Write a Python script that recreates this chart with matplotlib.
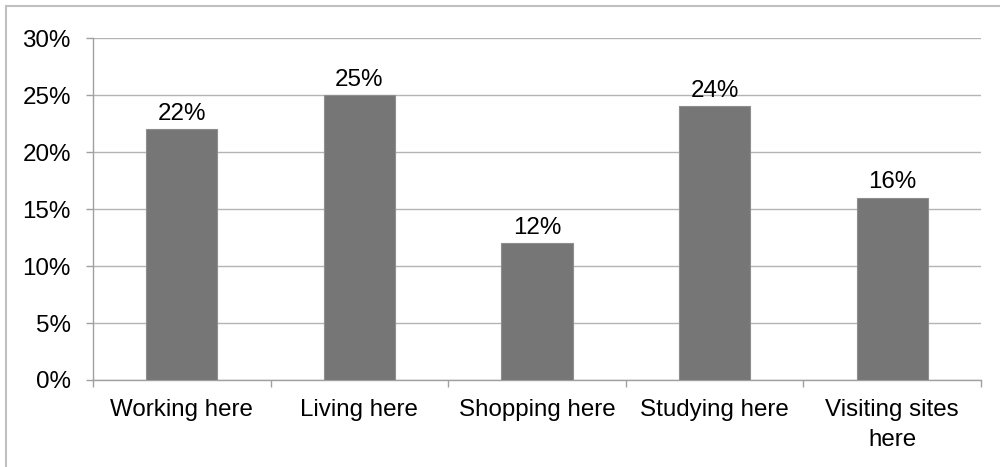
import numpy as np
import matplotlib.pyplot as plt
from matplotlib.ticker import FixedLocator, PercentFormatter

categories = ["Working here", "Living here", "Shopping here", "Studying here", "Visiting sites\nhere"]
shares = [22, 25, 12, 24, 16]

plt.rcParams['font.family'] = ['Liberation Sans', 'DejaVu Sans']
plt.rcParams['font.size'] = 17.4

fig = plt.figure(figsize=(10, 4.67), dpi=100)
ax = fig.add_axes([0.093, 0.1863, 0.888, 0.7323])

x = np.arange(len(categories))
bars = ax.bar(x, shares, width=0.4, color="#767676", edgecolor="#8e8e8e", linewidth=0.8, zorder=3)

for b, v in zip(bars, shares):
    ax.annotate("%d%%" % v, (b.get_x() + b.get_width() / 2, v), xytext=(0, 3),
                textcoords="offset points", ha="center", va="bottom")

ax.set_xlim(-0.5, len(categories) - 0.5)
ax.set_ylim(0, 30)
ax.set_yticks(range(0, 31, 5))
ax.yaxis.set_major_formatter(PercentFormatter(decimals=0))
ax.yaxis.grid(True, color="#b4b4b4", linewidth=1, zorder=0)

# category labels centred, tick marks between categories
ax.set_xticks(x)
ax.set_xticklabels(categories, linespacing=1.45)
ax.xaxis.set_minor_locator(FixedLocator(np.arange(-0.5, len(categories), 1)))
ax.tick_params(axis="x", which="major", length=0, pad=14)
ax.tick_params(axis="x", which="minor", length=5, color="#a0a0a0", width=1)
ax.tick_params(axis="y", length=5, color="#a0a0a0", width=1, pad=11)

for s in ["top", "right"]:
    ax.spines[s].set_visible(False)
for s in ["left", "bottom"]:
    ax.spines[s].set_color("#a0a0a0")
    ax.spines[s].set_linewidth(1)

# thin frame round the chart
fig.add_artist(plt.Line2D([0.006, 0.006], [0, 0.987], color="#c0c0c0", linewidth=1.5))
fig.add_artist(plt.Line2D([0.006, 1], [0.987, 0.987], color="#c0c0c0", linewidth=1.5))

fig.savefig("out.png", dpi=100)
